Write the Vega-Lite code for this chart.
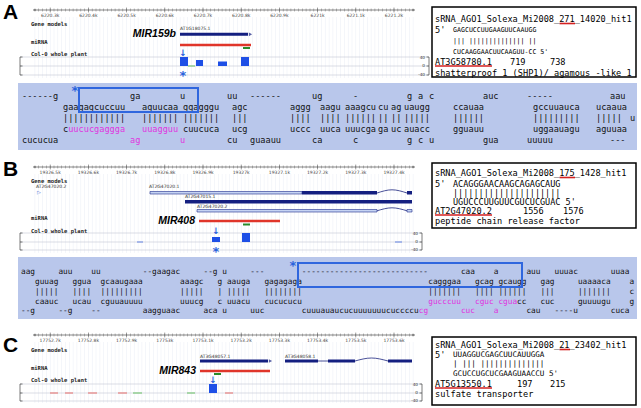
{
"$schema":"https://vega.github.io/schema/vega-lite/v6.json",
"width":641,"height":408,"padding":0,
"autosize":{"type":"fit","contains":"padding"},
"background":"white",
"config":{"view":{"stroke":null}},
"datasets":{
"ruler":[{"xs":[34.9,38.7,42.6,46.4,50.2,54.0,57.8,61.7,65.5,69.3,73.1,76.9,80.8,84.6,88.4,92.2,96.0,99.9,103.7,107.5,111.3,115.1,119.0,122.8,126.6,130.4,134.2,138.1,141.9,145.7,149.5,153.3,157.2,161.0,164.8,168.6,172.4,176.3,180.1,183.9,187.7,191.5,195.4,199.2,203.0,206.8,210.6,214.5,218.3,222.1,225.9,229.7,233.6,237.4,241.2,245.0,248.8,252.7,256.5,260.3,264.1,267.9,271.8,275.6,279.4,283.2,287.0,290.9,294.7,298.5,302.3,306.1,310.0,313.8,317.6,321.4,325.2,329.1,332.9,336.7,340.5,344.3,348.2,352.0,355.8,359.6,363.4,367.3,371.1,374.9,378.7,382.5,386.4,390.2,394.0,397.8,401.6,405.5,409.3,413.1],
"ms":[50.2,88.4,126.6,164.8,203.0,241.2,279.4,317.6,355.8,394.0],
"A":10,"B":167,"C":335,"gA":47.5,"gB":213.5,"gC":372.5}],
"rects":[
{"k":"bg","x":18,"x2":637,"y":83,"y2":150},{"k":"bg","x":18,"x2":637,"y":257,"y2":319},
{"k":"hl","x":79,"x2":198,"y":88,"y2":112},{"k":"hl","x":298,"x2":522,"y":263,"y2":287},
{"k":"box","x":432,"x2":636,"y":7,"y2":77},{"k":"box","x":432,"x2":636,"y":163,"y2":228},{"k":"box","x":432,"x2":636,"y":337,"y2":405},
{"k":"cov","x":180,"x2":188,"y":57,"y2":66},{"k":"cov","x":196,"x2":203,"y":60,"y2":66},{"k":"cov","x":218,"x2":227,"y":61.5,"y2":66},{"k":"cov","x":241,"x2":249,"y":57,"y2":66},
{"k":"cov","x":212,"x2":220,"y":237,"y2":242},{"k":"cov","x":242,"x2":250,"y":233,"y2":242},
{"k":"cov","x":209,"x2":217,"y":384,"y2":393},
{"k":"nv","x":180,"x2":248,"y":32.8,"y2":35.8},
{"k":"nv","x":302,"x2":377,"y":191,"y2":194.5},{"k":"nv","x":407,"x2":412,"y":191,"y2":194.5},{"k":"nv","x":185,"x2":412,"y":200,"y2":203.5},
{"k":"nv","x":200,"x2":268,"y":359.5,"y2":362.5},{"k":"nv","x":285,"x2":318,"y":359.5,"y2":362.5},{"k":"nv","x":328,"x2":355,"y":359.5,"y2":362.5},{"k":"nv","x":388,"x2":412,"y":359.5,"y2":362.5},
{"k":"lt","x":150,"x2":302,"y":191.5,"y2":194},{"k":"lt","x":197,"x2":377,"y":209.5,"y2":212},{"k":"lt","x":407,"x2":412,"y":209.5,"y2":212}
],
"segs":[
{"k":"rl","x":33,"x2":415,"y":10,"y2":10},{"k":"rl","x":33,"x2":415,"y":167,"y2":167},{"k":"rl","x":33,"x2":415,"y":335,"y2":335},
{"k":"tk","x":20,"x2":429,"y":57,"y2":57},{"k":"tk","x":20,"x2":429,"y":66,"y2":66},{"k":"tk","x":20,"x2":429,"y":75,"y2":75},
{"k":"tk","x":20,"x2":422,"y":233,"y2":233},{"k":"tk","x":20,"x2":422,"y":242,"y2":242},{"k":"tk","x":20,"x2":422,"y":250,"y2":250},
{"k":"tk","x":20,"x2":422,"y":384,"y2":384},{"k":"tk","x":20,"x2":422,"y":393,"y2":393},{"k":"tk","x":20,"x2":422,"y":401,"y2":401},
{"k":"bk","x":20,"x2":20,"y":57,"y2":75},{"k":"bk","x":20,"x2":22.5,"y":57,"y2":57},{"k":"bk","x":20,"x2":22.5,"y":66,"y2":66},{"k":"bk","x":20,"x2":22.5,"y":75,"y2":75},
{"k":"bk","x":429,"x2":429,"y":57,"y2":75},{"k":"bk","x":426.5,"x2":429,"y":57,"y2":57},{"k":"bk","x":426.5,"x2":429,"y":66,"y2":66},{"k":"bk","x":426.5,"x2":429,"y":75,"y2":75},
{"k":"bk","x":20,"x2":20,"y":233,"y2":250},{"k":"bk","x":20,"x2":22.5,"y":233,"y2":233},{"k":"bk","x":20,"x2":22.5,"y":242,"y2":242},{"k":"bk","x":20,"x2":22.5,"y":250,"y2":250},
{"k":"bk","x":422,"x2":422,"y":233,"y2":250},{"k":"bk","x":419.5,"x2":422,"y":233,"y2":233},{"k":"bk","x":419.5,"x2":422,"y":242,"y2":242},{"k":"bk","x":419.5,"x2":422,"y":250,"y2":250},
{"k":"bk","x":20,"x2":20,"y":384,"y2":401},{"k":"bk","x":20,"x2":22.5,"y":384,"y2":384},{"k":"bk","x":20,"x2":22.5,"y":393,"y2":393},{"k":"bk","x":20,"x2":22.5,"y":401,"y2":401},
{"k":"bk","x":422,"x2":422,"y":384,"y2":401},{"k":"bk","x":419.5,"x2":422,"y":384,"y2":384},{"k":"bk","x":419.5,"x2":422,"y":393,"y2":393},{"k":"bk","x":419.5,"x2":422,"y":401,"y2":401},
{"k":"nl","x":318,"x2":328,"y":361,"y2":361},
{"k":"pk","x":50,"x2":58,"y":393,"y2":393},{"k":"pk","x":65,"x2":73,"y":393,"y2":393},{"k":"pk","x":88,"x2":97,"y":393,"y2":393},{"k":"pk","x":118,"x2":127,"y":393,"y2":393},{"k":"pk","x":225,"x2":233,"y":393,"y2":393},
{"k":"lg","x":133,"x2":142,"y":393,"y2":393},{"k":"lg","x":187,"x2":195,"y":393,"y2":393},{"k":"lg","x":188,"x2":195,"y":66,"y2":66},
{"k":"lb","x":137,"x2":143,"y":242,"y2":242},{"k":"lb","x":395,"x2":402,"y":242,"y2":242},
{"k":"rd","x":180,"x2":251,"y":45,"y2":45},{"k":"rd","x":199,"x2":280,"y":221,"y2":221},{"k":"rd","x":200,"x2":270,"y":371,"y2":371},
{"k":"gr","x":243,"x2":250,"y":48,"y2":48},{"k":"gr","x":243,"x2":250,"y":224.5,"y2":224.5},{"k":"gr","x":214,"x2":221,"y":374,"y2":374},
{"k":"ul","x":435,"x2":492,"y":66,"y2":66},{"k":"ul","x":559.5,"x2":575,"y":23.5,"y2":23.5},
{"k":"ul","x":435,"x2":492,"y":215,"y2":215},{"k":"ul","x":559.5,"x2":575,"y":177.5,"y2":177.5},
{"k":"ul","x":435,"x2":492,"y":388,"y2":388},{"k":"ul","x":559.5,"x2":570,"y":349.5,"y2":349.5}
],
"curves":[
{"g":"b1","o":0,"x":377,"y":193},{"g":"b1","o":1,"x":392,"y":189.8},{"g":"b1","o":2,"x":407,"y":193},
{"g":"b2","o":0,"x":377,"y":210.8},{"g":"b2","o":1,"x":392,"y":207.8},{"g":"b2","o":2,"x":407,"y":210.8},
{"g":"c1","o":0,"x":355,"y":361},{"g":"c1","o":1,"x":371.5,"y":358},{"g":"c1","o":2,"x":388,"y":361}
],
"pts":[
{"k":"tip","x":250.5,"y":34.3},{"k":"tip","x":270.5,"y":361},
{"k":"l","x":34.5,"y":10},{"k":"r","x":413.5,"y":10},{"k":"l","x":34.5,"y":167},{"k":"r","x":413.5,"y":167},{"k":"l","x":34.5,"y":335},{"k":"r","x":413.5,"y":335}
],
"txt":[
{"k":"pl","x":3,"y":18.5,"t":"A"},{"k":"pl","x":3,"y":176,"t":"B"},{"k":"pl","x":3,"y":352,"t":"C"},
{"k":"tl","x":50.2,"y":15.5,"t":"6220.3k"},{"k":"tl","x":88.4,"y":15.5,"t":"6220.4k"},{"k":"tl","x":126.6,"y":15.5,"t":"6220.5k"},{"k":"tl","x":164.8,"y":15.5,"t":"6220.6k"},{"k":"tl","x":203.0,"y":15.5,"t":"6220.7k"},{"k":"tl","x":241.2,"y":15.5,"t":"6220.8k"},{"k":"tl","x":279.4,"y":15.5,"t":"6220.9k"},{"k":"tl","x":317.6,"y":15.5,"t":"6221k"},{"k":"tl","x":355.8,"y":15.5,"t":"6221.1k"},{"k":"tl","x":394.0,"y":15.5,"t":"6221.2k"},
{"k":"tl","x":50.2,"y":172.5,"t":"19326.5k"},{"k":"tl","x":88.4,"y":172.5,"t":"19326.6k"},{"k":"tl","x":126.6,"y":172.5,"t":"19326.7k"},{"k":"tl","x":164.8,"y":172.5,"t":"19326.8k"},{"k":"tl","x":203.0,"y":172.5,"t":"19326.9k"},{"k":"tl","x":241.2,"y":172.5,"t":"19327k"},{"k":"tl","x":279.4,"y":172.5,"t":"19327.1k"},{"k":"tl","x":317.6,"y":172.5,"t":"19327.2k"},{"k":"tl","x":355.8,"y":172.5,"t":"19327.3k"},{"k":"tl","x":394.0,"y":172.5,"t":"19327.4k"},
{"k":"tl","x":50.2,"y":340.5,"t":"17752.7k"},{"k":"tl","x":88.4,"y":340.5,"t":"17752.8k"},{"k":"tl","x":126.6,"y":340.5,"t":"17752.9k"},{"k":"tl","x":164.8,"y":340.5,"t":"17753k"},{"k":"tl","x":203.0,"y":340.5,"t":"17753.1k"},{"k":"tl","x":241.2,"y":340.5,"t":"17753.2k"},{"k":"tl","x":279.4,"y":340.5,"t":"17753.3k"},{"k":"tl","x":317.6,"y":340.5,"t":"17753.4k"},{"k":"tl","x":355.8,"y":340.5,"t":"17753.5k"},{"k":"tl","x":394.0,"y":340.5,"t":"17753.6k"},
{"k":"tr","x":31,"y":24,"t":"Gene models"},{"k":"tr","x":31,"y":42,"t":"miRNA"},{"k":"tr","x":31,"y":54,"t":"Col-0 whole plant"},
{"k":"tr","x":31,"y":181,"t":"Gene models"},{"k":"tr","x":31,"y":218,"t":"miRNA"},{"k":"tr","x":31,"y":231,"t":"Col-0 whole plant"},
{"k":"tr","x":31,"y":349.5,"t":"Gene models"},{"k":"tr","x":31,"y":367.5,"t":"miRNA"},{"k":"tr","x":31,"y":380,"t":"Col-0 whole plant"},
{"k":"gn","x":180,"y":29,"t":"AT1G18075.1"},
{"k":"gn","x":36,"y":187,"t":"AT2G47020.2"},{"k":"gn","x":149,"y":187,"t":"AT2G47020.1"},{"k":"gn","x":185,"y":197,"t":"AT2G47015.1"},{"k":"gn","x":197,"y":206.5,"t":"AT2G47020.2"},
{"k":"gn","x":200,"y":357,"t":"AT3G48057.1"},{"k":"gn","x":285,"y":357,"t":"AT3G48058.1"},
{"k":"mr","x":176,"y":33.5,"t":"MIR159b"},{"k":"mr","x":195,"y":221,"t":"MIR408"},{"k":"mr","x":196,"y":371,"t":"MIR843"},
{"k":"ax","x":425,"y":57.5,"t":"40"},{"k":"ax","x":425,"y":66,"t":"0"},{"k":"ax","x":425,"y":74.5,"t":"-40"},
{"k":"ax","x":418,"y":233.5,"t":"40"},{"k":"ax","x":418,"y":242,"t":"0"},{"k":"ax","x":418,"y":250,"t":"-40"},
{"k":"ax","x":418,"y":384.5,"t":"40"},{"k":"ax","x":418,"y":393,"t":"0"},{"k":"ax","x":418,"y":401,"t":"-40"},
{"k":"bx","x":435,"y":19,"t":"sRNA_AGO1_Solexa_Mi2008_271_14020_hit1"},{"k":"bx","x":435,"y":30,"t":"5'"},{"k":"bx","x":435,"y":62,"t":"AT3G58780.1"},{"k":"bx","x":510,"y":62,"t":"719"},{"k":"bx","x":550,"y":62,"t":"738"},{"k":"bx","x":435,"y":72.5,"t":"shatterproof 1 (SHP1)/ agamous -like 1"},
{"k":"bx","x":435,"y":173,"t":"sRNA_AGO1_Solexa_Mi2008_175_1428_hit1"},{"k":"bx","x":435,"y":184,"t":"5'"},{"k":"bx","x":435,"y":211,"t":"AT2G47020.2"},{"k":"bx","x":523,"y":211,"t":"1556"},{"k":"bx","x":563,"y":211,"t":"1576"},{"k":"bx","x":435,"y":220.5,"t":"peptide chain release factor"},
{"k":"bx","x":435,"y":345,"t":"sRNA_AGO1_Solexa_Mi2008_21_23402_hit1"},{"k":"bx","x":435,"y":355,"t":"5'"},{"k":"bx","x":435,"y":384,"t":"AT5G13550.1"},{"k":"bx","x":517,"y":384,"t":"197"},{"k":"bx","x":550,"y":384,"t":"215"},{"k":"bx","x":435,"y":394,"t":"sulfate transporter"},
{"k":"qA","x":453,"y":30,"t":"GAGCUCCUUGAAGUUCAAUGG"},{"k":"qA","x":453,"y":41,"t":"|||\u00a0||||||||||||||\u00a0||"},{"k":"qA","x":453,"y":51.5,"t":"CUCAAGGAACUUCAAGUU-CC\u00a05'"},
{"k":"qB","x":453,"y":184,"t":"ACAGGGAACAAGCAGAGCAUG"},{"k":"qB","x":453,"y":193,"t":"|||||||||||||||||||||"},{"k":"qB","x":453,"y":202,"t":"UGUCCCUUGUUCGUCUCGUAC\u00a05'"},
{"k":"qC","x":453,"y":355,"t":"UUAGGUCGAGCUUCAUUGGA"},{"k":"qC","x":453,"y":364,"t":"|\u00a0|||\u00a0||||||||||||||"},{"k":"qC","x":453,"y":374,"t":"GCUCCUGCUCGAAGUAACCU\u00a05'"},
{"k":"st","x":183,"y":80,"t":"*"},{"k":"st","x":216,"y":255.5,"t":"*"},{"k":"st","x":75,"y":95,"t":"*"},{"k":"st","x":293,"y":270,"t":"*"},
{"k":"ar","x":183,"y":52.5,"t":"↓"},{"k":"ar","x":216,"y":231,"t":"↓"},{"k":"ar","x":213,"y":380,"t":"↓"},
{"k":"tri","x":37,"y":192,"t":"▷"}
],
"seq":[
{"k":"a","x":22,"y":96,"t":"------g"},{"k":"a","x":130,"y":96,"t":"ga"},{"k":"a","x":180,"y":96,"t":"u"},{"k":"a","x":227,"y":96,"t":"uu"},{"k":"a","x":250,"y":96,"t":"------"},{"k":"a","x":312,"y":96,"t":"ug"},{"k":"a","x":353,"y":96,"t":"-"},{"k":"a","x":407,"y":96,"t":"g"},{"k":"a","x":418,"y":96,"t":"a"},{"k":"a","x":429,"y":96,"t":"c"},{"k":"a","x":483,"y":96,"t":"auc"},{"k":"a","x":527,"y":96,"t":"-----"},{"k":"a","x":610,"y":96,"t":"aau"},
{"k":"a","x":22,"y":140,"t":"cucucua"},{"k":"am","x":130,"y":140,"t":"ag"},{"k":"am","x":180,"y":140,"t":"u"},{"k":"a","x":227,"y":140,"t":"cu"},{"k":"a","x":250,"y":140,"t":"guaauu"},{"k":"a","x":312,"y":140,"t":"ca"},{"k":"a","x":353,"y":140,"t":"c"},{"k":"a","x":407,"y":140,"t":"g"},{"k":"a","x":418,"y":140,"t":"c"},{"k":"a","x":429,"y":140,"t":"u"},{"k":"a","x":483,"y":140,"t":"gua"},{"k":"a","x":527,"y":140,"t":"uuuuu"},{"k":"a","x":610,"y":140,"t":"---"},
{"k":"a","x":63,"y":107,"t":"gaagagcuccuu"},{"k":"a","x":142,"y":107,"t":"aguucaa"},{"k":"a","x":183,"y":107,"t":"ggagggu"},{"k":"a","x":232,"y":107,"t":"agc"},{"k":"a","x":290,"y":107,"t":"aggg"},{"k":"a","x":320,"y":107,"t":"aagu"},{"k":"a","x":345,"y":107,"t":"aaagcu"},{"k":"a","x":378,"y":107,"t":"cu"},{"k":"a","x":391,"y":107,"t":"ag"},{"k":"a","x":404,"y":107,"t":"uaugg"},{"k":"a","x":453,"y":107,"t":"ccauaa"},{"k":"a","x":533,"y":107,"t":"gccuuauca"},{"k":"a","x":596,"y":107,"t":"ucaaua"},
{"k":"a","x":63,"y":118,"t":"||||||||||||"},{"k":"a","x":142,"y":118,"t":"|||||||"},{"k":"a","x":183,"y":118,"t":"|||||||"},{"k":"a","x":232,"y":118,"t":"|||"},{"k":"a","x":290,"y":118,"t":"||||"},{"k":"a","x":320,"y":118,"t":"||||"},{"k":"a","x":345,"y":118,"t":"||||||"},{"k":"a","x":378,"y":118,"t":"||"},{"k":"a","x":391,"y":118,"t":"||"},{"k":"a","x":404,"y":118,"t":"|||||"},{"k":"a","x":453,"y":118,"t":"||||||"},{"k":"a","x":533,"y":118,"t":"|||||||||"},{"k":"a","x":596,"y":118,"t":"|||||"},{"k":"a","x":630,"y":118,"t":"u"},
{"k":"a","x":63,"y":129,"t":"c"},{"k":"am","x":68.2,"y":129,"t":"uucucgaggga"},{"k":"am","x":142,"y":129,"t":"uuagguu"},{"k":"a","x":183,"y":129,"t":"cuucuca"},{"k":"a","x":232,"y":129,"t":"ucg"},{"k":"a","x":290,"y":129,"t":"uccc"},{"k":"a","x":320,"y":129,"t":"uuca"},{"k":"a","x":345,"y":129,"t":"uuucga"},{"k":"a","x":378,"y":129,"t":"ga"},{"k":"a","x":391,"y":129,"t":"uc"},{"k":"a","x":404,"y":129,"t":"auacc"},{"k":"a","x":453,"y":129,"t":"gguauu"},{"k":"a","x":533,"y":129,"t":"uggaauagu"},{"k":"a","x":596,"y":129,"t":"aguuaa"},
{"k":"b","x":21,"y":272,"t":"aag"},{"k":"b","x":58.4,"y":272,"t":"auu"},{"k":"b","x":91.2,"y":272,"t":"uu"},{"k":"b","x":142.7,"y":272,"t":"--gaagac"},{"k":"b","x":203.5,"y":272,"t":"--g"},{"k":"b","x":222.2,"y":272,"t":"u"},{"k":"b","x":250.3,"y":272,"t":"---"},{"k":"b","x":301.8,"y":272,"t":"---------------------------"},{"k":"b","x":460.9,"y":272,"t":"caa"},{"k":"b","x":493.7,"y":272,"t":"a"},{"k":"b","x":526.4,"y":272,"t":"auu"},{"k":"b","x":554.5,"y":272,"t":"uuuac"},{"k":"b","x":610.7,"y":272,"t":"uuaa"},
{"k":"b","x":21,"y":311,"t":"--g"},{"k":"b","x":58.4,"y":311,"t":"--g"},{"k":"b","x":91.2,"y":311,"t":"--"},{"k":"b","x":142.7,"y":311,"t":"aagguaac"},{"k":"b","x":203.5,"y":311,"t":"aca"},{"k":"b","x":222.2,"y":311,"t":"u"},{"k":"b","x":250.3,"y":311,"t":"uuc"},{"k":"b","x":301.8,"y":311,"t":"cuuuauaucucuuuuuuucuccccu"},{"k":"bm","x":418.8,"y":311,"t":"cg"},{"k":"bm","x":460.9,"y":311,"t":"cuc"},{"k":"bm","x":493.7,"y":311,"t":"a"},{"k":"b","x":526.4,"y":311,"t":"cau"},{"k":"b","x":554.5,"y":311,"t":"----u"},{"k":"b","x":610.7,"y":311,"t":"cuca"},
{"k":"b","x":35.0,"y":282,"t":"guuag"},{"k":"b","x":72.5,"y":282,"t":"ggua"},{"k":"b","x":100.6,"y":282,"t":"gcaaugaaa"},{"k":"b","x":180.1,"y":282,"t":"aaagc"},{"k":"b","x":217.6,"y":282,"t":"g"},{"k":"b","x":226.9,"y":282,"t":"aauga"},{"k":"b","x":264.4,"y":282,"t":"gagagaga"},{"k":"b","x":428.2,"y":282,"t":"cagggaa"},{"k":"b","x":475.0,"y":282,"t":"gcag"},{"k":"b","x":498.4,"y":282,"t":"gcaugg"},{"k":"b","x":540.5,"y":282,"t":"gag"},{"k":"b","x":577.9,"y":282,"t":"uaaaaca"},{"k":"b","x":629.4,"y":282,"t":"a"},
{"k":"b","x":35.0,"y":292,"t":"|||||"},{"k":"b","x":72.5,"y":292,"t":"||||"},{"k":"b","x":100.6,"y":292,"t":"|||||||||"},{"k":"b","x":180.1,"y":292,"t":"|||||"},{"k":"b","x":217.6,"y":292,"t":"|"},{"k":"b","x":226.9,"y":292,"t":"|||||"},{"k":"b","x":264.4,"y":292,"t":"||||||||"},{"k":"b","x":428.2,"y":292,"t":"|||||||"},{"k":"b","x":475.0,"y":292,"t":"||||"},{"k":"b","x":498.4,"y":292,"t":"||||||"},{"k":"b","x":540.5,"y":292,"t":"|||"},{"k":"b","x":577.9,"y":292,"t":"|||||||"},{"k":"b","x":629.4,"y":292,"t":"c"},
{"k":"b","x":35.0,"y":301.5,"t":"caauc"},{"k":"b","x":72.5,"y":301.5,"t":"ucau"},{"k":"b","x":100.6,"y":301.5,"t":"cguuauuuu"},{"k":"b","x":180.1,"y":301.5,"t":"uuucg"},{"k":"b","x":217.6,"y":301.5,"t":"c"},{"k":"b","x":226.9,"y":301.5,"t":"uuacu"},{"k":"b","x":264.4,"y":301.5,"t":"cucucucu"},{"k":"bm","x":428.2,"y":301.5,"t":"gucccuu"},{"k":"bm","x":475.0,"y":301.5,"t":"cguc"},{"k":"bm","x":498.4,"y":301.5,"t":"cgua"},{"k":"b","x":517.1,"y":301.5,"t":"cc"},{"k":"b","x":540.5,"y":301.5,"t":"cuc"},{"k":"b","x":577.9,"y":301.5,"t":"guuuugu"},{"k":"b","x":629.4,"y":301.5,"t":"g"}
]
},
"encoding":{
"x":{"field":"x","type":"quantitative","scale":{"domain":[0,641],"nice":false,"zero":false},"axis":null},
"y":{"field":"y","type":"quantitative","scale":{"domain":[0,408],"reverse":true,"nice":false,"zero":false},"axis":null}
},
"layer":[
{"data":{"name":"rects"},"transform":[{"filter":"datum.k==='bg'"}],"mark":{"type":"rect","color":"#b9c7eb"},"encoding":{"x2":{"field":"x2"},"y2":{"field":"y2"}}},
{"data":{"name":"ruler"},"transform":[{"flatten":["xs"],"as":["x"]},{"fold":["gA","gC"],"as":["p","y"]}],"mark":{"type":"tick","orient":"vertical","size":61,"thickness":0.5,"color":"#e1e7f2"}},
{"data":{"name":"ruler"},"transform":[{"flatten":["xs"],"as":["x"]},{"fold":["gB"],"as":["p","y"]}],"mark":{"type":"tick","orient":"vertical","size":79,"thickness":0.5,"color":"#e1e7f2"}},
{"data":{"name":"ruler"},"transform":[{"flatten":["xs"],"as":["x"]},{"fold":["A","B","C"],"as":["p","y"]}],"mark":{"type":"tick","orient":"vertical","size":3,"thickness":0.6,"color":"#666666"}},
{"data":{"name":"ruler"},"transform":[{"flatten":["ms"],"as":["x"]},{"fold":["A","B","C"],"as":["p","y"]}],"mark":{"type":"tick","orient":"vertical","size":5,"thickness":0.7,"color":"#555555"}},
{"data":{"name":"segs"},"transform":[{"filter":"datum.k==='rl'"}],"mark":{"type":"rule","color":"#555555","strokeWidth":0.7},"encoding":{"x2":{"field":"x2"},"y2":{"field":"y2"}}},
{"data":{"name":"segs"},"transform":[{"filter":"datum.k==='tk'"}],"mark":{"type":"rule","color":"#c3c8d4","strokeWidth":0.6},"encoding":{"x2":{"field":"x2"},"y2":{"field":"y2"}}},
{"data":{"name":"segs"},"transform":[{"filter":"datum.k==='bk'"}],"mark":{"type":"rule","color":"#444444","strokeWidth":0.7},"encoding":{"x2":{"field":"x2"},"y2":{"field":"y2"}}},
{"data":{"name":"segs"},"transform":[{"filter":"datum.k==='nl'"}],"mark":{"type":"rule","color":"#1a237e","strokeWidth":0.8},"encoding":{"x2":{"field":"x2"},"y2":{"field":"y2"}}},
{"data":{"name":"segs"},"transform":[{"filter":"datum.k==='pk'"}],"mark":{"type":"rule","color":"#e89c9c","strokeWidth":1.6},"encoding":{"x2":{"field":"x2"},"y2":{"field":"y2"}}},
{"data":{"name":"segs"},"transform":[{"filter":"datum.k==='lg'"}],"mark":{"type":"rule","color":"#97d097","strokeWidth":1.6},"encoding":{"x2":{"field":"x2"},"y2":{"field":"y2"}}},
{"data":{"name":"segs"},"transform":[{"filter":"datum.k==='lb'"}],"mark":{"type":"rule","color":"#95abe8","strokeWidth":1.6},"encoding":{"x2":{"field":"x2"},"y2":{"field":"y2"}}},
{"data":{"name":"segs"},"transform":[{"filter":"datum.k==='rd'"}],"mark":{"type":"rule","color":"#e0352a","strokeWidth":2.6},"encoding":{"x2":{"field":"x2"},"y2":{"field":"y2"}}},
{"data":{"name":"segs"},"transform":[{"filter":"datum.k==='gr'"}],"mark":{"type":"rule","color":"#2a8a2a","strokeWidth":2},"encoding":{"x2":{"field":"x2"},"y2":{"field":"y2"}}},
{"data":{"name":"segs"},"transform":[{"filter":"datum.k==='ul'"}],"mark":{"type":"rule","color":"#d42121","strokeWidth":1.6},"encoding":{"x2":{"field":"x2"},"y2":{"field":"y2"}}},
{"data":{"name":"curves"},"mark":{"type":"line","color":"#1a237e","strokeWidth":0.8,"interpolate":"monotone"},"encoding":{"detail":{"field":"g"},"order":{"field":"o"}}},
{"data":{"name":"rects"},"transform":[{"filter":"datum.k==='cov'"}],"mark":{"type":"rect","color":"#1e4fe6"},"encoding":{"x2":{"field":"x2"},"y2":{"field":"y2"}}},
{"data":{"name":"rects"},"transform":[{"filter":"datum.k==='nv'"}],"mark":{"type":"rect","color":"#141f80"},"encoding":{"x2":{"field":"x2"},"y2":{"field":"y2"}}},
{"data":{"name":"rects"},"transform":[{"filter":"datum.k==='lt'"}],"mark":{"type":"rect","fill":"#c5d3f3","stroke":"#1b2a8c","strokeWidth":0.6},"encoding":{"x2":{"field":"x2"},"y2":{"field":"y2"}}},
{"data":{"name":"pts"},"transform":[{"filter":"datum.k==='tip'"}],"mark":{"type":"point","shape":"triangle-right","filled":true,"size":14,"color":"#141f80"}},
{"data":{"name":"pts"},"transform":[{"filter":"datum.k!=='tip'"}],"mark":{"type":"point","filled":true,"size":7,"color":"#555555"},"encoding":{"shape":{"field":"k","type":"nominal","legend":null,"scale":{"domain":["l","r"],"range":["triangle-left","triangle-right"]}}}},
{"data":{"name":"txt"},"transform":[{"filter":"datum.k==='pl'"}],"mark":{"type":"text","font":"Liberation Sans","fontWeight":"bold","fontSize":21,"align":"left","baseline":"alphabetic","color":"#000000"},"encoding":{"text":{"field":"t"}}},
{"data":{"name":"txt"},"transform":[{"filter":"datum.k==='tl'"}],"mark":{"type":"text","font":"DejaVu Sans","fontSize":4.5,"align":"center","baseline":"middle","color":"#444444"},"encoding":{"text":{"field":"t"}}},
{"data":{"name":"txt"},"transform":[{"filter":"datum.k==='tr'"}],"mark":{"type":"text","font":"DejaVu Sans Mono","fontWeight":"bold","fontSize":5.5,"align":"left","baseline":"middle","color":"#222222"},"encoding":{"text":{"field":"t"}}},
{"data":{"name":"txt"},"transform":[{"filter":"datum.k==='gn'"}],"mark":{"type":"text","font":"DejaVu Sans","fontSize":4.5,"align":"left","baseline":"middle","color":"#333333"},"encoding":{"text":{"field":"t"}}},
{"data":{"name":"txt"},"transform":[{"filter":"datum.k==='mr'"}],"mark":{"type":"text","font":"Liberation Sans","fontWeight":"bold","fontStyle":"italic","fontSize":10.5,"align":"right","baseline":"middle","color":"#000000"},"encoding":{"text":{"field":"t"}}},
{"data":{"name":"txt"},"transform":[{"filter":"datum.k==='ax'"}],"mark":{"type":"text","font":"DejaVu Sans","fontSize":4.2,"align":"right","baseline":"middle","color":"#333333"},"encoding":{"text":{"field":"t"}}},
{"data":{"name":"txt"},"transform":[{"filter":"datum.k==='bx'"}],"mark":{"type":"text","font":"DejaVu Sans Mono","fontSize":8.6,"align":"left","baseline":"middle","color":"#000000"},"encoding":{"text":{"field":"t"}}},
{"data":{"name":"txt"},"transform":[{"filter":"datum.k==='qA'"}],"mark":{"type":"text","font":"DejaVu Sans Mono","fontSize":6.6,"align":"left","baseline":"middle","color":"#000000"},"encoding":{"text":{"field":"t"}}},
{"data":{"name":"txt"},"transform":[{"filter":"datum.k==='qB'"}],"mark":{"type":"text","font":"DejaVu Sans Mono","fontSize":8.5,"align":"left","baseline":"middle","color":"#000000"},"encoding":{"text":{"field":"t"}}},
{"data":{"name":"txt"},"transform":[{"filter":"datum.k==='qC'"}],"mark":{"type":"text","font":"DejaVu Sans Mono","fontSize":7.6,"align":"left","baseline":"middle","color":"#000000"},"encoding":{"text":{"field":"t"}}},
{"data":{"name":"txt"},"transform":[{"filter":"datum.k==='st'"}],"mark":{"type":"text","font":"DejaVu Sans","fontWeight":"bold","fontSize":13,"align":"center","baseline":"alphabetic","color":"#2a62dc"},"encoding":{"text":{"field":"t"}}},
{"data":{"name":"txt"},"transform":[{"filter":"datum.k==='ar'"}],"mark":{"type":"text","font":"DejaVu Sans","fontWeight":"bold","fontSize":9,"align":"center","baseline":"middle","color":"#2a62dc"},"encoding":{"text":{"field":"t"}}},
{"data":{"name":"txt"},"transform":[{"filter":"datum.k==='tri'"}],"mark":{"type":"text","font":"DejaVu Sans","fontSize":5,"align":"left","baseline":"middle","color":"#3355cc"},"encoding":{"text":{"field":"t"}}},
{"data":{"name":"seq"},"transform":[{"filter":"datum.k==='a'"}],"mark":{"type":"text","font":"DejaVu Sans Mono","fontSize":8.6,"align":"left","baseline":"middle","color":"#111111"},"encoding":{"text":{"field":"t"}}},
{"data":{"name":"seq"},"transform":[{"filter":"datum.k==='am'"}],"mark":{"type":"text","font":"DejaVu Sans Mono","fontSize":8.6,"align":"left","baseline":"middle","color":"#e033e0"},"encoding":{"text":{"field":"t"}}},
{"data":{"name":"seq"},"transform":[{"filter":"datum.k==='b'"}],"mark":{"type":"text","font":"DejaVu Sans Mono","fontSize":7.77,"align":"left","baseline":"middle","color":"#111111"},"encoding":{"text":{"field":"t"}}},
{"data":{"name":"seq"},"transform":[{"filter":"datum.k==='bm'"}],"mark":{"type":"text","font":"DejaVu Sans Mono","fontSize":7.77,"align":"left","baseline":"middle","color":"#e033e0"},"encoding":{"text":{"field":"t"}}},
{"data":{"name":"rects"},"transform":[{"filter":"datum.k==='hl'"}],"mark":{"type":"rect","fill":null,"stroke":"#2f66de","strokeWidth":2},"encoding":{"x2":{"field":"x2"},"y2":{"field":"y2"}}},
{"data":{"name":"rects"},"transform":[{"filter":"datum.k==='box'"}],"mark":{"type":"rect","fill":null,"stroke":"#000000","strokeWidth":1.5},"encoding":{"x2":{"field":"x2"},"y2":{"field":"y2"}}}
]
}
